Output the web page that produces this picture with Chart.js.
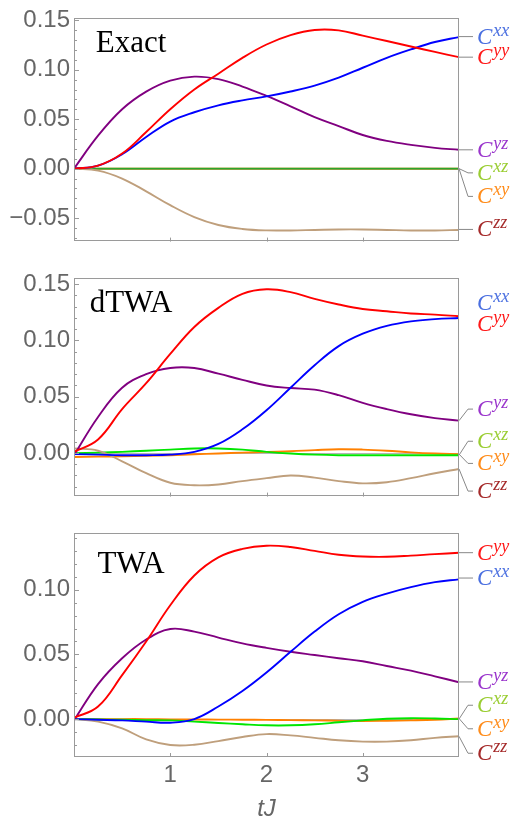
<!DOCTYPE html>
<html>
<head>
<meta charset="utf-8">
<script src="https://cdn.jsdelivr.net/npm/chart.js@4.4.1/dist/chart.umd.min.js"></script>
<style>
  body { margin: 0; background: #fff; }
  #wrap { position: relative; width: 518px; height: 827px; }
  canvas { position: absolute; left: 0; }
</style>
</head>
<body>
<div id="wrap">
  <canvas id="exact" width="518" height="260" style="top:0px"></canvas>
  <canvas id="dtwa" width="518" height="255" style="top:260px"></canvas>
  <canvas id="twa" width="518" height="312" style="top:515px"></canvas>
</div>
<script>
// time axis (tJ) and tick labels
const tJ = [0, 0.25, 0.5, 0.75, 1, 1.25, 1.5, 1.75, 2, 2.25, 2.5, 2.75, 3, 3.25, 3.5, 3.75, 4];
const xTicks = [1, 2, 3];
const exactYTicks = [-0.05, 0, 0.05, 0.10, 0.15];
const dtwaYTicks = [0, 0.05, 0.10, 0.15];
const twaYTicks = [0, 0.05, 0.10];

// Exact
const exactXX = [0, 0.003, 0.0145, 0.032, 0.0476, 0.057, 0.064, 0.069, 0.073, 0.078, 0.084, 0.092, 0.102, 0.112, 0.1205, 0.128, 0.133];
const exactYY = [0, 0.003, 0.0152, 0.037, 0.060, 0.080, 0.096, 0.112, 0.1255, 0.135, 0.1402, 0.1398, 0.1345, 0.129, 0.1235, 0.118, 0.1127];
const exactYZ = [0, 0.0333, 0.060, 0.0778, 0.0889, 0.093, 0.0905, 0.083, 0.0735, 0.063, 0.052, 0.043, 0.034, 0.028, 0.024, 0.021, 0.019];
const exactXZ = [0, 0, 0, 0, 0, 0, 0, 0, 0, 0, 0, 0, 0, 0, 0, 0, 0];
const exactXY = [0, 0, 0, 0, 0, 0, 0, 0, 0, 0, 0, 0, 0, 0, 0, 0, 0];
const exactZZ = [0, -0.002, -0.010, -0.023, -0.037, -0.049, -0.057, -0.061, -0.0625, -0.0625, -0.062, -0.0615, -0.0615, -0.062, -0.0625, -0.0625, -0.062];

// dTWA
const dtwaXX = [-0.001, -0.0015, -0.002, -0.002, -0.0015, 0.001, 0.008, 0.021, 0.038, 0.058, 0.078, 0.095, 0.106, 0.113, 0.117, 0.119, 0.120];
const dtwaYY = [0.001, 0.012, 0.039, 0.062, 0.088, 0.112, 0.129, 0.1415, 0.1455, 0.143, 0.137, 0.132, 0.128, 0.126, 0.124, 0.123, 0.1216];
const dtwaYZ = [-0.002, 0.032, 0.058, 0.070, 0.0755, 0.0755, 0.0705, 0.065, 0.060, 0.0577, 0.0563, 0.0514, 0.0445, 0.039, 0.0344, 0.031, 0.0287];
const dtwaXZ = [-0.0003, 0.0003, 0.001, 0.002, 0.003, 0.004, 0.004, 0.003, 0.001, -0.0005, -0.0015, -0.002, -0.002, -0.002, -0.002, -0.002, -0.002];
const dtwaXY = [-0.0036, -0.0033, -0.003, -0.0025, -0.002, -0.0012, -0.0005, 0.0003, 0.001, 0.0015, 0.0025, 0.0033, 0.003, 0.002, 0.0005, -0.0005, -0.001];
const dtwaZZ = [0.004, 0.002, -0.0074, -0.018, -0.0265, -0.0287, -0.028, -0.025, -0.0224, -0.020, -0.0219, -0.025, -0.027, -0.026, -0.0224, -0.018, -0.0142];

// TWA
const twaXX = [0, -0.0005, -0.001, -0.002, -0.0028, 0, 0.0097, 0.0217, 0.036, 0.052, 0.0676, 0.081, 0.0906, 0.097, 0.102, 0.1058, 0.108];
const twaYY = [0.001, 0.0097, 0.034, 0.060, 0.088, 0.111, 0.125, 0.1315, 0.134, 0.133, 0.130, 0.127, 0.1256, 0.1254, 0.1263, 0.1275, 0.1285];
const twaYZ = [-0.001, 0.027, 0.047, 0.0615, 0.0696, 0.0676, 0.063, 0.0585, 0.055, 0.052, 0.0495, 0.047, 0.0447, 0.041, 0.0374, 0.033, 0.0285];
const twaXZ = [0, -0.0003, -0.0005, -0.0008, -0.001, -0.002, -0.003, -0.004, -0.0048, -0.0048, -0.004, -0.0025, -0.001, 0.0003, 0.0007, 0.0005, 0];
const twaXY = [0, 0, 0, 0, -0.0002, -0.0003, -0.0004, -0.0005, -0.0006, -0.0008, -0.001, -0.0013, -0.0015, -0.0013, -0.001, -0.0005, 0.0005];
const twaZZ = [0, -0.002, -0.0072, -0.0157, -0.020, -0.0198, -0.017, -0.0138, -0.0116, -0.0126, -0.0145, -0.0164, -0.0174, -0.0174, -0.0164, -0.0145, -0.0133];

const lineColors = { xx: '#0000ff', yy: '#ff0000', yz: '#800080', xz: '#00e600', xy: '#ff8000', zz: '#bf9f7c' };
const labelColors = { xx: '#4a6fe0', yy: '#ff1a1a', yz: '#9a35cc', xz: '#9acd32', xy: '#ff8c1a', zz: '#a52a2a' };
const drawOrder = ['yy', 'xx', 'yz', 'zz', 'xz', 'xy']; // first = on top
const sans = '"Liberation Sans", Arial, sans-serif';
const serif = '"Liberation Serif", "Times New Roman", serif';

function framePlugin(cfg) {
  return {
    id: 'frame',
    beforeDatasetsDraw(chart) {
      const { ctx, chartArea: a, scales: { y } } = chart;
      const y0 = Math.round(y.getPixelForValue(0)) + 0.5;
      ctx.save();
      ctx.strokeStyle = '#b4b4b4';
      ctx.lineWidth = 1;
      ctx.beginPath();
      ctx.moveTo(a.left, y0);
      ctx.lineTo(a.right, y0);
      ctx.stroke();
      ctx.restore();
    },
    afterDraw(chart) {
      const { ctx, chartArea: a, scales: { x, y } } = chart;
      ctx.save();
      // frame
      ctx.strokeStyle = '#9a9a9a';
      ctx.lineWidth = 1;
      ctx.strokeRect(Math.round(a.left) + 0.5, Math.round(a.top) + 0.5,
        Math.round(a.right - a.left) - 1, Math.round(a.bottom - a.top) - 1);
      // y ticks: minor every 0.01, major every 0.05
      ctx.beginPath();
      for (let k = Math.ceil(y.min * 100); k <= Math.floor(y.max * 100); k++) {
        const py = Math.round(y.getPixelForValue(k / 100)) + 0.5;
        ctx.moveTo(a.left, py);
        ctx.lineTo(a.left + (k % 5 === 0 ? 5 : 3), py);
      }
      // x ticks
      xTicks.forEach(v => {
        const px = Math.round(x.getPixelForValue(v)) + 0.5;
        ctx.moveTo(px, a.bottom);
        ctx.lineTo(px, a.bottom - 4);
      });
      ctx.stroke();

      // panel title
      ctx.fillStyle = '#000';
      ctx.font = '31px ' + serif;
      ctx.textAlign = 'center';
      ctx.textBaseline = 'alphabetic';
      ctx.fillText(cfg.title, a.left + 57, a.top + cfg.titleDy);

      // right-hand labels with leader lines
      ctx.textAlign = 'left';
      cfg.labels.forEach(lab => {
        const ds = chart.data.datasets.find(d => d.label === lab.key);
        const endY = y.getPixelForValue(ds.data[ds.data.length - 1].y);
        const ly = y.getPixelForValue(lab.at);
        if (lab.leader) {
          ctx.strokeStyle = '#888';
          ctx.lineWidth = 1;
          ctx.beginPath();
          if (Math.abs(ly - endY) < 3) {
            ctx.moveTo(a.right, ly);
          } else {
            ctx.moveTo(a.right, endY);
            ctx.lineTo(a.right + 9, ly);
          }
          ctx.lineTo(a.right + 14, ly);
          ctx.stroke();
        }
        const lx = a.right + 18;
        ctx.fillStyle = labelColors[lab.key];
        ctx.font = 'italic 23px ' + serif;
        ctx.fillText('C', lx, ly + 7);
        const cw = ctx.measureText('C').width;
        ctx.font = 'italic 18px ' + serif;
        ctx.fillText(lab.key, lx + cw + 1, ly - 1);
      });
      ctx.restore();
    }
  };
}

function makePanel(id, series, yTicks, yMin, yMax, cfg) {
  const datasets = drawOrder.map(k => ({
    label: k,
    data: series[k].map((v, i) => ({ x: tJ[i], y: v })),
    borderColor: (k === 'xz' && cfg.xzColor) || lineColors[k],
    borderWidth: 1.9,
    pointRadius: 0,
    tension: 0.4,
    fill: false
  }));
  return new Chart(document.getElementById(id), {
    type: 'line',
    data: { datasets },
    options: {
      responsive: false,
      animation: false,
      layout: { padding: { top: cfg.padTop, right: 59, left: 0, bottom: 0 } },
      plugins: { legend: { display: false }, tooltip: { enabled: false } },
      scales: {
        x: {
          type: 'linear', min: 0, max: 4,
          grid: { display: false, drawTicks: false },
          border: { display: false },
          afterBuildTicks: s => { s.ticks = xTicks.map(v => ({ value: v })); },
          afterFit: s => { s.height = cfg.xHeight; },
          ticks: { display: cfg.showX, padding: 4, color: '#666', font: { family: sans, size: 24 } },
          title: {
            display: cfg.showX, text: 'tJ', color: '#666',
            font: { family: sans, size: 24, style: 'italic' },
            padding: { top: 0, bottom: 3 }
          }
        },
        y: {
          type: 'linear', min: yMin, max: yMax,
          grid: { display: false, drawTicks: false },
          border: { display: false },
          afterBuildTicks: s => { s.ticks = yTicks.map(v => ({ value: v })); },
          afterFit: s => { s.width = 74; },
          ticks: {
            padding: 4, color: '#666', font: { family: sans, size: 24 },
            callback: v => (v < 0 ? '\u2212' : '') + Math.abs(v).toFixed(2)
          }
        }
      }
    },
    plugins: [framePlugin(cfg)]
  });
}

makePanel('exact',
  { xx: exactXX, yy: exactYY, yz: exactYZ, xz: exactXZ, xy: exactXY, zz: exactZZ },
  exactYTicks, -0.0738, 0.1519,
  {
    padTop: 11, xHeight: 12, showX: false, xzColor: '#2ca52c', title: 'Exact', titleDy: 34,
    labels: [
      { key: 'xx', at: 0.1335, leader: true },
      { key: 'yy', at: 0.1127, leader: true },
      { key: 'yz', at: 0.019, leader: true },
      { key: 'xz', at: -0.0043, leader: true },
      { key: 'xy', at: -0.0281, leader: true },
      { key: 'zz', at: -0.0615, leader: true }
    ]
  });

makePanel('dtwa',
  { xx: dtwaXX, yy: dtwaYY, yz: dtwaYZ, xz: dtwaXZ, xy: dtwaXY, zz: dtwaZZ },
  dtwaYTicks, -0.0388, 0.1552,
  {
    padTop: 8, xHeight: 10, showX: false, title: 'dTWA', titleDy: 34,
    labels: [
      { key: 'xx', at: 0.1334, leader: false },
      { key: 'yy', at: 0.1145, leader: false },
      { key: 'yz', at: 0.039, leader: true },
      { key: 'xz', at: 0.0104, leader: true },
      { key: 'xy', at: -0.0093, leader: true },
      { key: 'zz', at: -0.0339, leader: true }
    ]
  });

makePanel('twa',
  { xx: twaXX, yy: twaYY, yz: twaYZ, xz: twaXZ, xy: twaXY, zz: twaZZ },
  twaYTicks, -0.0293, 0.1435,
  {
    padTop: 4.5, xHeight: 70, showX: true, title: 'TWA', titleDy: 39.5,
    labels: [
      { key: 'yy', at: 0.1286, leader: true },
      { key: 'xx', at: 0.109, leader: true },
      { key: 'yz', at: 0.0287, leader: true },
      { key: 'xz', at: 0.0107, leader: true },
      { key: 'xy', at: -0.0075, leader: true },
      { key: 'zz', at: -0.0264, leader: true }
    ]
  });
</script>
</body>
</html>
